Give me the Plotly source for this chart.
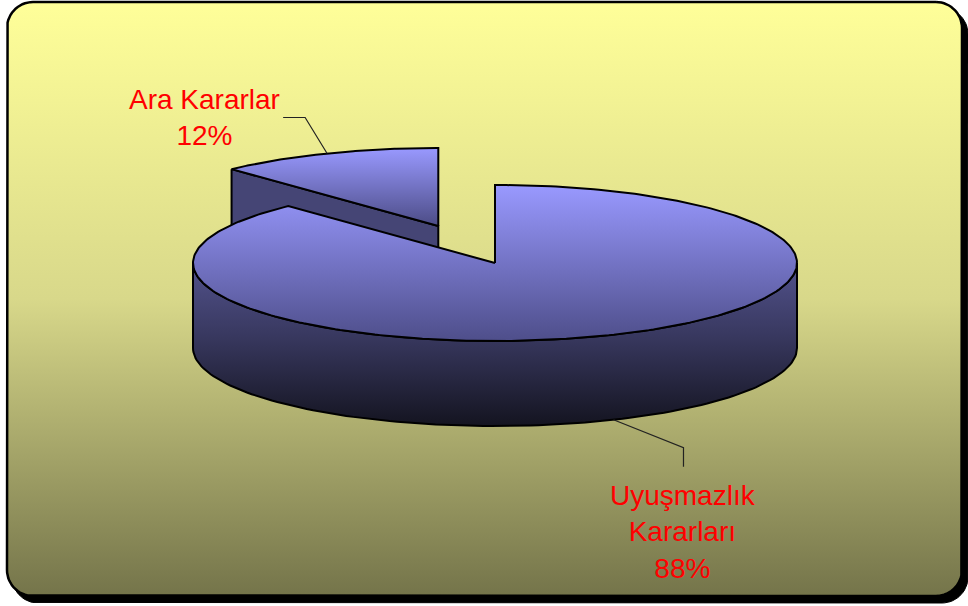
import numpy as np
import plotly.graph_objects as go

# ---- data ----
labels = ["Ara Kararlar", "Uyuşmazlık Kararları"]
values = [12, 88]
pct_text = ["12%", "88%"]

# ---- layout constants (pixel-like data units, y downward) ----
W, H = 968, 606
CX, CY = 495, 263        # centre of top ellipse
RX, RY = 302, 78         # ellipse radii
DEPTH = 85               # pie thickness
PULL = 0.51              # explosion of the first slice

total = float(sum(values))
fracs = [v / total for v in values]
# angles in degrees (math convention, CCW), first slice starts at 12 o'clock going CCW
a0 = 90.0
a1 = a0 + 360.0 * fracs[0]
slices = [(a0, a1), (a1, a0 + 360.0)]


def ept(cx, cy, ang, dz=0.0):
    t = np.radians(ang)
    return cx + RX * np.cos(t), cy - RY * np.sin(t) + dz


def arc(cx, cy, s, e, dz=0.0, n=120):
    ts = np.linspace(s, e, n)
    xs = cx + RX * np.cos(np.radians(ts))
    ys = cy - RY * np.sin(np.radians(ts)) + dz
    return list(xs), list(ys)


def rounded_rect(x0, y0, x1, y1, r, n=16):
    xs, ys = [], []
    corners = [(x1 - r, y0 + r, -90, 0), (x1 - r, y1 - r, 0, 90),
               (x0 + r, y1 - r, 90, 180), (x0 + r, y0 + r, 180, 270)]
    for cx, cy, s, e in corners:
        t = np.radians(np.linspace(s, e, n))
        xs += list(cx + r * np.cos(t))
        ys += list(cy + r * np.sin(t))
    xs.append(xs[0]); ys.append(ys[0])
    return xs, ys


fig = go.Figure()

# background shadow + gradient panel
sx, sy = rounded_rect(12, 8, 968, 603, 26)
fig.add_trace(go.Scatter(x=sx, y=sy, fill="toself", fillcolor="black",
                         line=dict(color="black", width=1), mode="lines",
                         hoverinfo="skip", showlegend=False))
bx, by = rounded_rect(7, 2, 962, 596, 26)
fig.add_trace(go.Scatter(x=bx, y=by, fill="toself", mode="lines",
                         fillgradient=dict(type="vertical",
                                           colorscale=[[0, "#FFFF99"], [0.5, "#D8D88A"], [1, "#74744A"]],
                                           start=2, stop=596),
                         line=dict(color="black", width=2.5),
                         hoverinfo="skip", showlegend=False))

# exploded first slice
mid0 = (slices[0][0] + slices[0][1]) / 2
ox = CX + PULL * RX * np.cos(np.radians(mid0))
oy = CY - PULL * RY * np.sin(np.radians(mid0))

# its visible radial face (at end angle)
ex, ey = ept(ox, oy, slices[0][1])
face_x = [ex, ox, ox, ex, ex]
face_y = [ey, oy, oy + DEPTH, ey + DEPTH, ey]
fig.add_trace(go.Scatter(x=face_x, y=face_y, fill="toself", fillcolor="#454575",
                         mode="lines", line=dict(color="black", width=2),
                         hoverinfo="skip", showlegend=False))
# its top
axs, ays = arc(ox, oy, slices[0][0], slices[0][1])
tx = [ox] + axs + [ox]
ty = [oy] + ays + [oy]
fig.add_trace(go.Scatter(x=tx, y=ty, fill="toself", mode="lines",
                         fillgradient=dict(type="vertical",
                                           colorscale=[[0, "#9999FF"], [1, "#4C4C86"]],
                                           start=oy - RY, stop=oy),
                         line=dict(color="black", width=2),
                         hoverinfo="skip", showlegend=False))

# big slice outer wall (front half)
s1, e1 = slices[1]
w_s, w_e = max(s1, 180.0), min(e1, 360.0)
wx_top, wy_top = arc(CX, CY, w_s, w_e)
wx_bot, wy_bot = arc(CX, CY, w_e, w_s, dz=DEPTH)
fig.add_trace(go.Scatter(x=wx_top + wx_bot + [wx_top[0]], y=wy_top + wy_bot + [wy_top[0]],
                         fill="toself", mode="lines",
                         fillgradient=dict(type="vertical",
                                           colorscale=[[0, "#52528C"], [0.45, "#38385F"], [1, "#141420"]],
                                           start=CY, stop=CY + RY + DEPTH),
                         line=dict(color="black", width=2),
                         hoverinfo="skip", showlegend=False))
# big slice top
bxs, bys = arc(CX, CY, s1, e1, n=300)
fig.add_trace(go.Scatter(x=[CX] + bxs + [CX], y=[CY] + bys + [CY], fill="toself", mode="lines",
                         fillgradient=dict(type="vertical",
                                           colorscale=[[0, "#9999FF"], [1, "#4E4E8A"]],
                                           start=CY - RY, stop=CY + RY),
                         line=dict(color="black", width=2),
                         hoverinfo="skip", showlegend=False))

# leader lines
m0x, m0y = ept(ox, oy, mid0)
fig.add_trace(go.Scatter(x=[m0x, m0x - 22, m0x - 44], y=[m0y, m0y - 36, m0y - 36],
                         mode="lines", line=dict(color="#222222", width=1.2),
                         hoverinfo="skip", showlegend=False))
mid1 = (s1 + e1) / 2
m1x, m1y = ept(CX, CY, mid1 + 1.5, dz=DEPTH)
fig.add_trace(go.Scatter(x=[m1x, m1x + 70, m1x + 70], y=[m1y, m1y + 28, m1y + 47],
                         mode="lines", line=dict(color="#222222", width=1.2),
                         hoverinfo="skip", showlegend=False))

font = dict(family="Arial, Liberation Sans, sans-serif", size=28, color="#FF0000")
fig.add_annotation(x=204, y=117, text=labels[0] + "<br>" + pct_text[0],
                   showarrow=False, font=font, xref="x", yref="y", align="center")
w1, w2 = labels[1].split(" ")
fig.add_annotation(x=683, y=532, text=w1 + "<br>" + w2 + "<br>" + pct_text[1],
                   showarrow=False, font=font, xref="x", yref="y", align="center")

fig.update_layout(
    width=W, height=H, margin=dict(l=0, r=0, t=0, b=0),
    paper_bgcolor="white", plot_bgcolor="white",
    xaxis=dict(range=[0, W], visible=False, fixedrange=True),
    yaxis=dict(range=[H, 0], visible=False, fixedrange=True),
    showlegend=False,
)
fig.write_html("out.html", config={"displayModeBar": False},
               post_script="document.body.style.margin='0';document.body.style.overflow='hidden';")
